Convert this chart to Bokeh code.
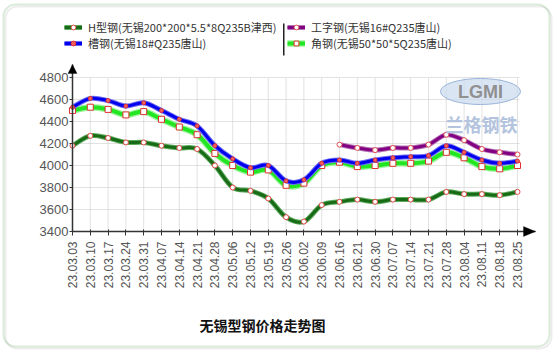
import numpy as np
from bokeh.plotting import figure
from bokeh.models import (FixedTicker, Range1d, Legend, LegendItem, Label,
                          BoxAnnotation, PolyAnnotation)
from bokeh.core.properties import value
from bokeh.embed import file_html
from bokeh.resources import INLINE

# ---------------- data ----------------
dates = ["23.03.03", "23.03.10", "23.03.17", "23.03.24", "23.03.31", "23.04.07",
         "23.04.14", "23.04.21", "23.04.28", "23.05.06", "23.05.12", "23.05.19",
         "23.05.26", "23.06.02", "23.06.09", "23.06.16", "23.06.21", "23.06.30",
         "23.07.07", "23.07.14", "23.07.21", "23.07.28", "23.08.04", "23.08.11",
         "23.08.18", "23.08.25"]
h_beam = [4180, 4270, 4250, 4210, 4210, 4180, 4160, 4150, 4000, 3800, 3770, 3700, 3530,
          3490, 3640, 3670, 3690, 3670, 3690, 3690, 3690, 3760, 3740, 3740, 3730, 3760]
channel = [4530, 4610, 4590, 4540, 4570, 4500, 4420, 4360, 4180, 4060, 3980, 4000, 3860,
           3870, 4020, 4050, 4020, 4050, 4070, 4080, 4090, 4180, 4120, 4050, 4020, 4040]
i_beam = [None] * 15 + [4190, 4160, 4140, 4160, 4160, 4190, 4280, 4230, 4150, 4120, 4100]
angle = [4500, 4530, 4510, 4460, 4490, 4420, 4350, 4280, 4110, 4000, 3940, 3960, 3820,
         3840, 4000, 4030, 3990, 4000, 4020, 4020, 4040, 4120, 4070, 3990, 3970, 4000]
y_ticks = [3400, 3600, 3800, 4000, 4200, 4400, 4600, 4800]
names = ["H型钢(无锡200*200*5.5*8Q235B津西)", "槽钢(无锡18#Q235唐山)",
         "工字钢(无锡16#Q235唐山)", "角钢(无锡50*50*5Q235唐山)"]
title_text = "无锡型钢价格走势图"

x_idx = list(range(len(dates)))

CJK = "Noto Sans CJK SC"
LAT = "Liberation Sans"

# ---------------- layout (frame = whole canvas, axes at fixed locations) ----------
W, H = 554, 352
X0PX, DXPX = 72.0, 17.8          # pixel of first category, pixels per category
Y0PX, DYPX = 231.0, 22.0 / 200   # pixel of y=3400, pixels per unit
Y_BASE = y_ticks[0]


def X(px):
    return (px - X0PX) / DXPX


def Y(py):
    return Y_BASE + (Y0PX - py) / DYPX


x_end = X(535)
y_end = Y(64)

p = figure(width=W, height=H, output_backend="svg", toolbar_location=None,
           x_range=Range1d(X(0), X(W)), y_range=Range1d(Y(H), Y(0)),
           min_border=0, min_border_left=0, min_border_right=0,
           min_border_top=0, min_border_bottom=0,
           background_fill_color="white", border_fill_color="white")
p.outline_line_color = None
p.xgrid.visible = False
p.ygrid.visible = False

# axes
p.xaxis.fixed_location = Y_BASE
p.yaxis.fixed_location = 0
p.xaxis.bounds = (0, x_end)
p.yaxis.bounds = (Y_BASE, y_end)
p.xaxis.ticker = FixedTicker(ticks=x_idx)
p.xaxis.major_label_overrides = {i: d for i, d in enumerate(dates)}
p.xaxis.major_label_orientation = np.pi / 2
p.yaxis.ticker = FixedTicker(ticks=y_ticks)
for ax in (p.xaxis[0], p.yaxis[0]):
    ax.axis_line_color = "#333333"
    ax.axis_line_width = 1.5
    ax.major_tick_line_color = "#333333"
    ax.minor_tick_line_color = None
    ax.major_label_text_color = "#555555"
    ax.major_label_text_font = LAT
p.xaxis.major_tick_out = 4
p.xaxis.major_tick_in = 2
p.xaxis.major_label_standoff = 6
p.xaxis.major_label_text_font_size = "12px"
p.yaxis.major_tick_out = 3
p.yaxis.major_tick_in = 0
p.yaxis.major_label_standoff = 1
p.yaxis.major_label_text_font_size = "13px"

# outer rounded frame with shadow
p.add_layout(BoxAnnotation(left=X(5), right=X(551), top=Y(6), bottom=Y(348),
                           fill_alpha=0, line_color="#c4c4c4", line_width=2,
                           border_radius=12))
p.add_layout(BoxAnnotation(left=X(3), right=X(549), top=Y(4), bottom=Y(346),
                           fill_alpha=0, line_color="#86bc86", line_width=2,
                           border_radius=12))

# dotted grid
n = len(x_idx)
p.segment(x0=x_idx, x1=x_idx, y0=[y_ticks[0]] * n, y1=[y_ticks[-1]] * n,
          line_color="#c4c4c4", line_dash="1 1", line_width=1)
p.segment(x0=[0] * len(y_ticks), x1=[x_idx[-1] + 0.1] * len(y_ticks),
          y0=y_ticks, y1=y_ticks, line_color="#c4c4c4", line_dash="1 1", line_width=1)

# watermark
p.ellipse(x=[X(480)], y=[Y(91)], width=[80], height=[26], width_units="screen",
          height_units="screen", fill_color="#cbdaee", fill_alpha=0.7,
          line_color="#9ab4da", line_width=1)
p.add_layout(Label(x=X(480), y=Y(91), text="LGMI", text_align="center",
                   text_baseline="middle", text_color="#909090",
                   text_font=LAT, text_font_style="bold", text_font_size="18px"))
p.add_layout(Label(x=X(481), y=Y(123), text="兰格钢铁", text_align="center",
                   text_baseline="middle", text_color="#b4c4de",
                   text_font=CJK, text_font_style="bold", text_font_size="18px"))


def bez(xs, ys, t=1 / 6):
    xs = np.asarray(xs, float)
    ys = np.asarray(ys, float)
    m = len(xs)
    i = np.arange(m - 1)
    ip = np.maximum(i - 1, 0)
    inn = np.minimum(i + 2, m - 1)
    return dict(x0=xs[i], y0=ys[i], x1=xs[i + 1], y1=ys[i + 1],
                cx0=xs[i] + (xs[i + 1] - xs[ip]) * t,
                cy0=ys[i] + (ys[i + 1] - ys[ip]) * t,
                cx1=xs[i + 1] - (xs[inn] - xs[i]) * t,
                cy1=ys[i + 1] - (ys[inn] - ys[i]) * t)


def series(vals, core, halo, cw, hw, marker, mfill, mline, msize):
    xs = [i for i, v in zip(x_idx, vals) if v is not None]
    ys = [v for v in vals if v is not None]
    b = bez(xs, ys)
    r1 = p.bezier(**b, line_color=halo, line_width=hw)
    r2 = p.bezier(**b, line_color=core, line_width=cw)
    r3 = p.scatter(xs, ys, marker=marker, size=msize, fill_color=mfill,
                   line_color=mline, line_width=1)
    return [r1, r2, r3]


r_h = series(h_beam, "#176b17", "#5caa5c", 3, 5, "circle", "white", "#e04848", 5)
r_a = series(angle, "#22e622", "#9cf49c", 4, 6.5, "square", "white", "#e03030", 6)
r_c = series(channel, "#0000ee", "#6b6bf2", 3, 5, "circle", "#f06060", "#e03030", 4)
r_i = series(i_beam, "#820082", "#b574b5", 3, 5, "circle", "white", "#e05050", 5)


def mk_legend(items, loc):
    lg = Legend(items=[LegendItem(label=value(t), renderers=r) for t, r in items],
                location=loc, orientation="vertical", glyph_width=18, glyph_height=12,
                label_height=12, spacing=-3, padding=0, margin=0, label_standoff=6,
                label_text_font=CJK, label_text_font_size="11px",
                label_text_color="#333333", background_fill_alpha=0,
                border_line_alpha=0)
    p.add_layout(lg, "center")


mk_legend([(names[0], r_h), (names[1], r_c)], (64, H - 51))
mk_legend([(names[2], r_i), (names[3], r_a)], (287, H - 51))

# separator between legend columns
p.add_layout(BoxAnnotation(left=X(282.5), right=X(284), top=Y(23), bottom=Y(55),
                           fill_color="#222222", fill_alpha=1, line_alpha=0))

# axis arrows
p.add_layout(PolyAnnotation(xs=[X(67.5), 0, X(76.5)], ys=[Y(73), y_end, Y(73)],
                            fill_color="black", fill_alpha=1, line_color="black"))
p.add_layout(PolyAnnotation(xs=[X(523), x_end, X(523)],
                            ys=[Y(226), Y_BASE, Y(236)],
                            fill_color="black", fill_alpha=1, line_color="black"))

# title
p.add_layout(Label(x=X(262), y=Y(324), text=title_text, text_align="center",
                   text_baseline="middle", text_color="#111111", text_font=CJK,
                   text_font_style="bold", text_font_size="14px"))

open("out.html", "w").write(file_html(p, INLINE))
